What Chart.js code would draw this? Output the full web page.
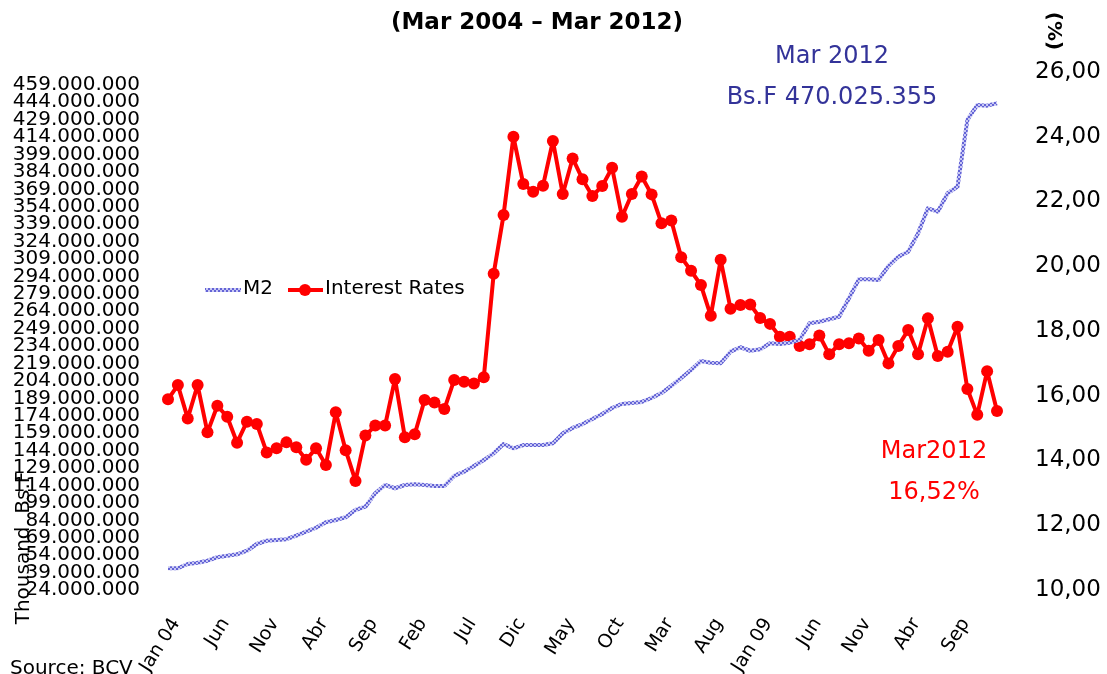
<!DOCTYPE html>
<html>
<head>
<meta charset="utf-8">
<script src="https://cdn.jsdelivr.net/npm/chart.js@4.4.1/dist/chart.umd.min.js"></script>
<style>
  html, body { margin: 0; padding: 0; background: #fff; }
  #wrap { position: relative; width: 1107px; height: 674px; }
</style>
</head>
<body>
<div id="wrap"><canvas id="m2Chart"></canvas></div>
<script>
// --- Data (monthly, Jan 04 onwards) ---
const tickLabels = ["Jan 04", "Jun", "Nov", "Abr", "Sep", "Feb", "Jul", "Dic", "May", "Oct",
  "Mar", "Aug", "Jan 09", "Jun", "Nov", "Abr", "Sep"];

// M2, millions of thousand Bs.F (left axis)
const m2Values = [
  42.7, 42.7, 46.4, 47.5, 49.2, 52.2, 53.5, 54.7, 57.8, 63.6,
  66.4, 67.1, 67.7, 70.8, 74.2, 77.6, 82.3, 84.3, 86.6, 92.9,
  95.7, 107.3, 114.4, 111.6, 114.4, 115.0, 114.4, 113.5, 113.5, 122.2,
  125.9, 130.8, 135.9, 141.7, 149.7, 146.0, 148.8, 148.8, 148.8, 150.3,
  158.9, 163.5, 166.9, 171.2, 175.5, 180.7, 184.2, 185.0, 185.9, 189.3,
  193.6, 199.7, 206.5, 213.4, 221.2, 219.7, 219.2, 229.2, 233.0, 230.0,
  231.2, 236.4, 235.8, 236.9, 239.3, 253.6, 255.0, 257.1, 259.3, 275.2,
  291.5, 291.5, 290.9, 303.0, 311.0, 315.3, 331.1, 352.6, 349.7, 365.6,
  371.3, 428.7, 441.6, 441.0, 443.1
];

// Interest rates, % (right axis)
const rateValues = [
  15.89, 16.33, 15.30, 16.33, 14.87, 15.69, 15.35, 14.55, 15.20, 15.13,
  14.25, 14.38, 14.56, 14.41, 14.02, 14.38, 13.86, 15.49, 14.32, 13.37,
  14.77, 15.08, 15.08, 16.52, 14.72, 14.81, 15.87, 15.79, 15.59, 16.49,
  16.43, 16.38, 16.57, 19.77, 21.58, 24.00, 22.54, 22.30, 22.49, 23.87,
  22.23, 23.33, 22.69, 22.17, 22.48, 23.04, 21.53, 22.23, 22.77, 22.22,
  21.33, 21.41, 20.28, 19.86, 19.42, 18.47, 20.20, 18.69, 18.80, 18.82,
  18.40, 18.22, 17.82, 17.82, 17.54, 17.59, 17.86, 17.28, 17.59, 17.62,
  17.77, 17.39, 17.72, 17.00, 17.54, 18.03, 17.28, 18.39, 17.23, 17.36,
  18.13, 16.21, 15.41, 16.76, 15.53
];

const categories = rateValues.map((_, i) => i);

const FONT = "DejaVu Sans";
const BLUE_TEXT = "#333399";

// --- textured blue line, like the original ---
function makeM2Pattern() {
  const c = document.createElement("canvas");
  c.width = 4; c.height = 4;
  const g = c.getContext("2d");
  g.fillStyle = "#c8c8f4";
  g.fillRect(0, 0, 4, 4);
  g.fillStyle = "#6464d6";
  g.fillRect(0, 0, 2, 2);
  g.fillRect(2, 2, 2, 2);
  return g.createPattern(c, "repeat");
}
const m2Pattern = makeM2Pattern();

// --- extra texts: title, axis names, notes, legend ---
const decorations = {
  id: "decorations",
  afterDraw(chart) {
    const ctx = chart.ctx;
    ctx.save();
    ctx.fillStyle = "#000";
    ctx.textBaseline = "middle";

    // title
    ctx.font = `bold 23px '${FONT}'`;
    ctx.textAlign = "center";
    ctx.fillText("(Mar 2004 \u2013 Mar 2012)", 537, 23);

    // (%) rotated
    ctx.save();
    ctx.translate(1053, 31);
    ctx.rotate(Math.PI / 2);
    ctx.font = `bold 20px '${FONT}'`;
    ctx.fillText("(%)", 0, 0);
    ctx.restore();

    // Thousand Bs.F rotated
    ctx.save();
    ctx.translate(24, 548);
    ctx.rotate(-Math.PI / 2);
    ctx.font = `20px '${FONT}'`;
    ctx.fillText("Thousand  Bs.F", 0, 0);
    ctx.restore();

    // source
    ctx.textAlign = "left";
    ctx.font = `20px '${FONT}'`;
    ctx.fillText("Source: BCV", 10, 669);

    // notes
    ctx.textAlign = "center";
    ctx.font = `24px '${FONT}'`;
    ctx.fillStyle = BLUE_TEXT;
    ctx.fillText("Mar 2012", 832, 57);
    ctx.fillText("Bs.F 470.025.355", 832, 98);
    ctx.fillStyle = "#ff0000";
    ctx.fillText("Mar2012", 934, 452);
    ctx.fillText("16,52%", 934, 493);

    // legend
    const ly = 290;
    ctx.lineWidth = 4;
    ctx.strokeStyle = m2Pattern;
    ctx.beginPath(); ctx.moveTo(205, ly); ctx.lineTo(241, ly); ctx.stroke();
    ctx.strokeStyle = "#ff0000";
    ctx.beginPath(); ctx.moveTo(288, ly); ctx.lineTo(323, ly); ctx.stroke();
    ctx.fillStyle = "#ff0000";
    ctx.beginPath(); ctx.arc(305, ly, 6, 0, Math.PI * 2); ctx.fill();
    ctx.fillStyle = "#000";
    ctx.textAlign = "left";
    ctx.font = `20px '${FONT}'`;
    ctx.fillText("M2", 243, ly - 1);
    ctx.fillText("Interest Rates", 325, ly - 1);
    ctx.restore();
  }
};

// --- Chart.js setup ---
const ctx = document.getElementById("m2Chart").getContext("2d");

new Chart(ctx, {
  type: "line",
  data: {
    labels: categories,
    datasets: [
      {
        label: "M2",
        data: m2Values,
        yAxisID: "y",
        borderColor: m2Pattern,
        borderWidth: 4,
        borderJoinStyle: "round",
        pointRadius: 0,
        tension: 0,
        fill: false
      },
      {
        label: "Interest Rates",
        data: rateValues,
        yAxisID: "y1",
        borderColor: "#ff0000",
        backgroundColor: "#ff0000",
        borderWidth: 4,
        borderJoinStyle: "round",
        pointRadius: 6,
        pointBorderWidth: 0,
        pointBackgroundColor: "#ff0000",
        tension: 0,
        fill: false
      }
    ]
  },
  options: {
    responsive: true,
    maintainAspectRatio: false,
    animation: false,
    layout: { padding: { top: 72, left: 0, right: 0, bottom: 0 } },
    plugins: {
      legend: { display: false },
      tooltip: { enabled: false },
      title: { display: false }
    },
    scales: {
      x: {
        type: "category",
        offset: false,
        grid: { display: false, drawTicks: false },
        border: { display: false },
        ticks: {
          autoSkip: false,
          minRotation: 58,
          maxRotation: 58,
          padding: 24,
          labelOffset: 8,
          color: "#000",
          font: { family: FONT, size: 19 },
          callback: (v, i) => (i % 5 === 0 ? tickLabels[i / 5] : "")
        },
        afterFit: s => { s.height = 84; }
      },
      y: {
        position: "left",
        min: 24,
        max: 470,
        grid: { display: false, drawTicks: false },
        border: { display: false },
        afterBuildTicks: s => {
          const t = [];
          for (let v = 24; v <= 459; v += 15) t.push({ value: v });
          s.ticks = t;
        },
        ticks: {
          autoSkip: false,
          padding: 28,
          color: "#000",
          font: { family: FONT, size: 20 },
          callback: v => (v * 1e6).toLocaleString("de-DE")
        },
        afterFit: s => { s.width = 168; }
      },
      y1: {
        position: "right",
        min: 10,
        max: 26,
        grid: { display: false, drawTicks: false },
        border: { display: false },
        ticks: {
          stepSize: 2,
          padding: 38,
          color: "#000",
          font: { family: FONT, size: 23 },
          callback: v => v.toFixed(2).replace(".", ",")
        },
        afterFit: s => { s.width = 110; }
      }
    }
  },
  plugins: [decorations]
});
</script>
</body>
</html>
